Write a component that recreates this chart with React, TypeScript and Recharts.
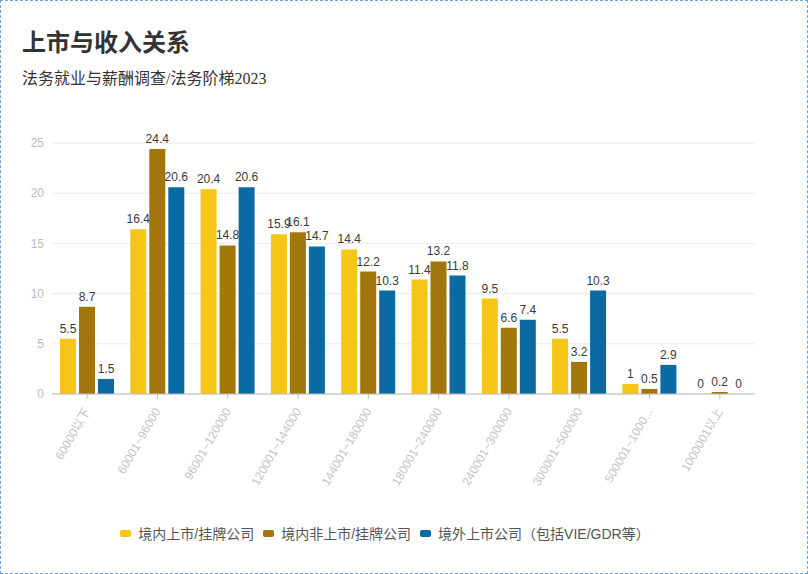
import React from 'react';
import { BarChart, Bar, XAxis, YAxis, CartesianGrid, Legend, LabelList } from 'recharts';

const categories = [
  '60000以下',
  '60001~96000',
  '96001~120000',
  '120001~144000',
  '144001~180000',
  '180001~240000',
  '240001~300000',
  '300001~500000',
  '500001~1000000',
  '1000001以上',
];
const domesticListed = [5.5, 16.4, 20.4, 15.9, 14.4, 11.4, 9.5, 5.5, 1, 0];
const domesticUnlisted = [8.7, 24.4, 14.8, 16.1, 12.2, 13.2, 6.6, 3.2, 0.5, 0.2];
const overseasListed = [1.5, 20.6, 20.6, 14.7, 10.3, 11.8, 7.4, 10.3, 2.9, 0];
const yTicks = [0, 5, 10, 15, 20, 25];

const seriesNames = ['境内上市/挂牌公司', '境内非上市/挂牌公司', '境外上市公司（包括VIE/GDR等）'];
const colors = ['#f5c518', '#a3760b', '#0b6aa2'];

const data = categories.map((c, i) => ({
  name: c,
  a: domesticListed[i],
  b: domesticUnlisted[i],
  c: overseasListed[i],
}));

const font = '"Liberation Sans", Arial, "Noto Sans CJK SC", sans-serif';

function shorten(v: string) {
  return v.length > 13 ? v.slice(0, 11) + '...' : v;
}

function XTick(props: any) {
  const { x, y, payload } = props;
  return (
    <g transform={`translate(${x},${y + 8})`}>
      <text textAnchor="end" transform="rotate(-60)" fontSize={12} fill="#c4c4c4" dy={4}>
        {shorten(payload.value)}
      </text>
    </g>
  );
}

function ValueLabel(props: any) {
  const { x, y, width, value } = props;
  if (value === undefined || value === null) return null;
  return (
    <text x={x + width / 2} y={y - 6} textAnchor="middle" fontSize={12} fill="#3a3a3a">
      {value}
    </text>
  );
}

function LegendContent() {
  return (
    <div style={{ display: 'flex', justifyContent: 'center', gap: 9, fontSize: 14, color: '#555', fontFamily: font }}>
      {seriesNames.map((n, i) => (
        <div key={n} style={{ display: 'flex', alignItems: 'center' }}>
          <span style={{ width: 11, height: 7, borderRadius: 2, background: colors[i], marginRight: 7, display: 'inline-block' }} />
          {n}
        </div>
      ))}
    </div>
  );
}

export default function App() {
  const keys = ['a', 'b', 'c'];
  return (
    <div
      style={{
        position: 'fixed',
        top: 0,
        left: 0,
        width: 808,
        height: 574,
        boxSizing: 'border-box',
        border: '1px dashed #6fa3d0',
        background: '#fff',
        fontFamily: font,
      }}
    >
      <div style={{ position: 'absolute', left: 21, top: 22, fontSize: 24, fontWeight: 'bold', color: '#333', fontFamily: '"Noto Sans CJK SC", sans-serif' }}>
        上市与收入关系
      </div>
      <div style={{ position: 'absolute', left: 21, top: 64, fontSize: 16, color: '#333', fontFamily: '"Liberation Serif", "Noto Sans CJK SC", serif' }}>
        法务就业与薪酬调查/法务阶梯2023
      </div>
      <div style={{ position: 'absolute', left: -1, top: -1 }}>
        <BarChart
          width={808}
          height={574}
          data={data}
          margin={{ top: 143, right: 53, left: 22, bottom: 0 }}
          barSize={16}
          barGap={3}
        >
          <CartesianGrid vertical={false} stroke="#ebebeb" />
          <XAxis
            dataKey="name"
            interval={0}
            tick={<XTick />}
            tickLine={{ stroke: '#bbb' }}
            axisLine={{ stroke: '#bbb' }}
            tickSize={5}
            height={160}
          />
          <YAxis
            domain={[0, 25]}
            ticks={yTicks}
            width={30}
            axisLine={false}
            tickLine={false}
            tick={{ fontSize: 12, fill: '#bbb' }}
          />
          <Legend content={<LegendContent />} wrapperStyle={{ position: 'absolute', top: 523, left: 0, width: 770 }} />
          {keys.map((k, i) => (
            <Bar key={k} dataKey={k} name={seriesNames[i]} fill={colors[i]} minPointSize={0.01} isAnimationActive={false}>
              <LabelList dataKey={k} content={<ValueLabel />} />
            </Bar>
          ))}
        </BarChart>
      </div>
    </div>
  );
}
